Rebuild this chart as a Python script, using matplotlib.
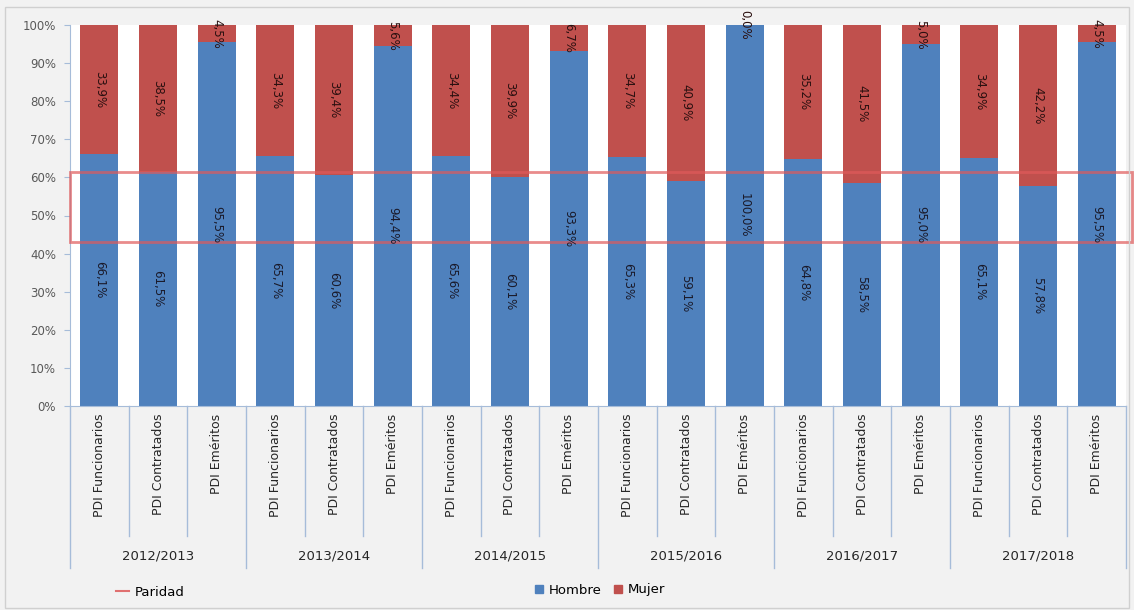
import numpy as np
import matplotlib.pyplot as plt
from matplotlib.patches import Rectangle
from matplotlib.lines import Line2D
from matplotlib.patches import Patch

years = ['2012/2013', '2013/2014', '2014/2015', '2015/2016', '2016/2017', '2017/2018']
tipos = ['PDI Funcionarios', 'PDI Contratados', 'PDI Eméritos']

hombre = [66.1, 61.5, 95.5, 65.7, 60.6, 94.4, 65.6, 60.1, 93.3,
          65.3, 59.1, 100.0, 64.8, 58.5, 95.0, 65.1, 57.8, 95.5]
mujer = [33.9, 38.5, 4.5, 34.3, 39.4, 5.6, 34.4, 39.9, 6.7,
         34.7, 40.9, 0.0, 35.2, 41.5, 5.0, 34.9, 42.2, 4.5]

# franja de paridad (lectura del grafico)
paridad = [43.0, 61.5]

blue = '#4f81bd'
red = '#c0504d'

fig = plt.figure(figsize=(11.34, 6.1), dpi=100)
fig.patch.set_facecolor('#f2f2f2')
ax = fig.add_axes([70 / 1134, 1 - 406 / 610, (1126 - 70) / 1134, 381 / 610])
ax.set_facecolor('white')

x = np.arange(len(hombre))
ax.bar(x, hombre, width=0.65, color=blue, zorder=2)
ax.bar(x, mujer, width=0.65, bottom=hombre, color=red, zorder=2)

def fmt(v):
    return ('%.1f%%' % v).replace('.', ',')

for i in x:
    ax.text(i, hombre[i] / 2, fmt(hombre[i]), rotation=270, ha='center', va='center',
            fontsize=8.5, color='#1a1a2a', zorder=4)
    ax.text(i, hombre[i] + mujer[i] / 2, fmt(mujer[i]), rotation=270, ha='center',
            va='center', fontsize=8.5, color='#2a1010', zorder=4)

# paridad
rect = Rectangle((-0.5, paridad[0]), 18.1, paridad[1] - paridad[0], fill=False,
                 edgecolor='#e05a5a', alpha=0.7, linewidth=2, zorder=3, clip_on=False)
ax.add_patch(rect)

ax.set_xlim(-0.5, len(hombre) - 0.5)
ax.set_ylim(0, 100)
ax.set_yticks(np.arange(0, 101, 10))
ax.set_yticklabels(['%d%%' % v for v in range(0, 101, 10)], fontsize=8.5, color='#595959')
ax.tick_params(axis='y', length=4, color='#a6bcd9', pad=6)
for s in ['top', 'right']:
    ax.spines[s].set_visible(False)
ax.spines['left'].set_color('#a6bcd9')
ax.spines['bottom'].set_color('#a6bcd9')

# eje de categorias en dos niveles
ax.set_xticks([])
trans = ax.get_xaxis_transform()
for i in x:
    ax.text(i, -0.02, tipos[i % 3], rotation=90, ha='center', va='top',
            fontsize=9, color='#262626', transform=trans)
for k in range(len(hombre) + 1):
    xs = k - 0.5
    if k % 3 == 0:
        ax.plot([xs, xs], [0, -0.425], color='#a6bcd9', lw=1, transform=trans, clip_on=False)
    else:
        ax.plot([xs, xs], [0, -0.34], color='#a6bcd9', lw=1, transform=trans, clip_on=False)
for g, yr in enumerate(years):
    ax.text(3 * g + 1, -0.395, yr, ha='center', va='center', fontsize=9.5,
            color='#262626', transform=trans)

# leyendas
h1 = [Line2D([], [], color='#e07070', lw=1.5)]
fig.legend(h1, ['Paridad'], loc='center', bbox_to_anchor=(150 / 1134, 1 - 592 / 610),
           frameon=False, fontsize=9.5, handlelength=1.0, handletextpad=0.4)
h2 = [Patch(color=blue), Patch(color=red)]
fig.legend(h2, ['Hombre', 'Mujer'], loc='center', ncol=2,
           bbox_to_anchor=(600 / 1134, 1 - 590 / 610), frameon=False, fontsize=9.5,
           handlelength=0.6, handleheight=0.6, handletextpad=0.4, columnspacing=1.0)

fig.patches.append(Rectangle((0.004, 0.004), 0.992, 0.985, transform=fig.transFigure,
                             fill=False, edgecolor='#d0d0d0', lw=1))

fig.savefig('out.png', dpi=100, facecolor=fig.get_facecolor())
